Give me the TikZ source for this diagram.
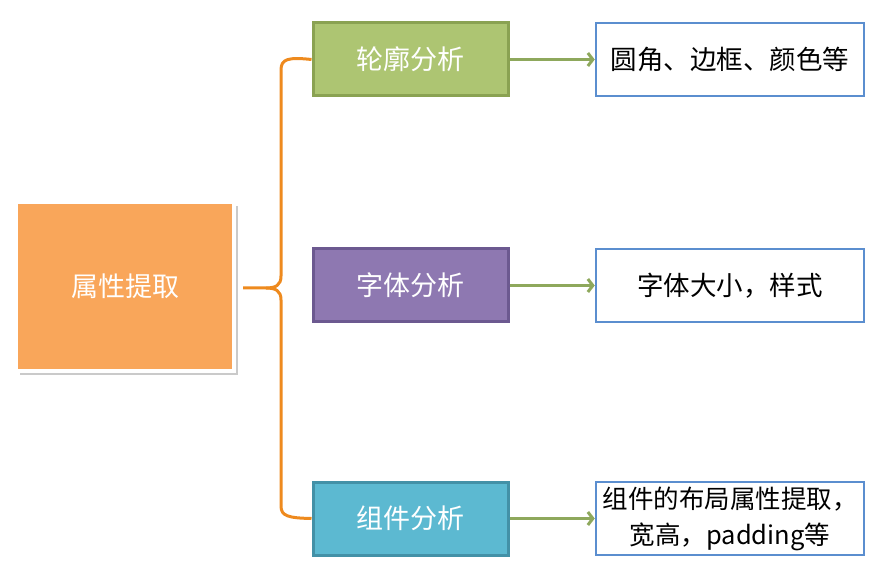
\documentclass[tikz,border=0pt]{standalone}
\usepackage{fontspec}
\setmainfont{Noto Sans CJK SC}
\usetikzlibrary{shadows,arrows.meta}
\definecolor{mainor}{HTML}{F9A65A}
\definecolor{gfill}{HTML}{ADC572}
\definecolor{gline}{HTML}{8AA252}
\definecolor{pfill}{HTML}{8E78B1}
\definecolor{pline}{HTML}{6C5990}
\definecolor{bfill}{HTML}{5CB9D1}
\definecolor{bline}{HTML}{4391A7}
\definecolor{rline}{HTML}{5B8ECF}
\definecolor{arrg}{HTML}{8EA85C}
\definecolor{braceor}{HTML}{EE8A1E}
\begin{document}
\begin{tikzpicture}[x=1pt,y=-1pt,
  mainbox/.style={draw=white,line width=4pt,fill=mainor,text=white,
    minimum width=218pt,minimum height=169pt,inner sep=0pt,
    font=\fontsize{27}{30}\selectfont,
    drop shadow={shadow xshift=4pt,shadow yshift=-4pt,fill=black!35,opacity=0.6}},
  catbox/.style={line width=3pt,text=white,minimum width=195pt,
    minimum height=73pt,inner sep=0pt,font=\fontsize{27}{30}\selectfont},
  descbox/.style={draw=rline,line width=2.5pt,fill=white,text=black,
    minimum width=268pt,minimum height=73pt,inner sep=0pt,align=center,
    font=\fontsize{26.5}{36}\selectfont},
  arr/.style={draw=arrg,line width=3pt,-{Straight Barb[length=5pt,width=13pt]}},
  brace/.style={draw=braceor,line width=3pt,line join=round}]
\useasboundingbox (0,0) rectangle (876,561);
\node[mainbox] (main) at (125,286.5) {属性提取};
\node[catbox,draw=gline,fill=gfill] (g1) at (410.5,59.5) {轮廓分析};
\node[catbox,draw=pline,fill=pfill] (g2) at (410.5,285.5) {字体分析};
\node[catbox,draw=bline,fill=bfill] (g3) at (410.5,518.5) {组件分析};
\node[descbox] (d1) at (730,59.5) {圆角、边框、颜色等};
\node[descbox] (d2) at (730,285.5) {字体大小，样式};
\node[descbox,font=\fontsize{25.5}{36}\selectfont] (d3) at (730,518.5) {组件的布局属性提取，\\宽高，padding等};
\coordinate (tip) at (243,288);
\draw[brace] (tip) -- (266,288) .. controls (276,288) and (281,285) .. (281,276)
  -- (281,70) .. controls (281,59) and (288,57) .. (g1.west);
\draw[brace] (266,288) .. controls (276,288) and (281,291) .. (281,300)
  -- (281,506) .. controls (281,516) and (288,518) .. (g3.west);
\draw[arr] (g1.east) -- (d1.west);
\draw[arr] (g2.east) -- (d2.west);
\draw[arr] (g3.east) -- (d3.west);
\end{tikzpicture}
\end{document}
